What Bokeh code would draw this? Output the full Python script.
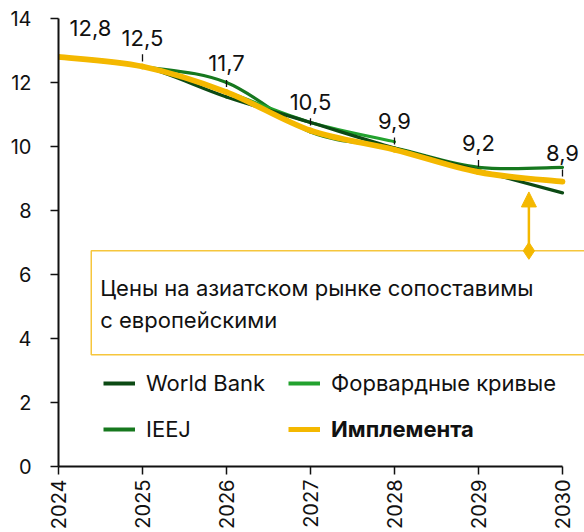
from bokeh.plotting import figure
from bokeh.models import (ColumnDataSource, LabelSet, Label, Arrow,
                          NormalHead, Legend, LegendItem, FixedTicker)
from bokeh.core.properties import value
from bokeh.embed import file_html
from bokeh.resources import INLINE

# ---------------- data ----------------
years = [2024, 2025, 2026, 2027, 2028, 2029, 2030]
year_labels = ["2024", "2025", "2026", "2027", "2028", "2029", "2030"]
implementa = [12.8, 12.5, 11.7, 10.5, 9.9, 9.2, 8.9]
world_bank = [12.8, 12.5, 11.55, 10.75, 9.95, 9.25, 8.55]
ieej = [12.8, 12.5, 12.0, 10.45, 9.95, 9.35, 9.35]
forward_years = [2024, 2025, 2026, 2027, 2028]
forward = [12.8, 12.5, 11.7, 10.75, 10.15]
y_ticks = [0, 2, 4, 6, 8, 10, 12, 14]

FONT = "Inter"
C_WB = "#0c4a14"
C_IEEJ = "#16781e"
C_FWD = "#22a22e"
C_IMP = "#f4b800"
C_BOX = "#f6c63c"
C_TXT = "#111111"


def smooth(xs, ys):
    n = len(xs)
    d = dict(x0=[], y0=[], x1=[], y1=[], cx0=[], cy0=[], cx1=[], cy1=[])
    t = 1.0 / 6.0
    for i in range(n - 1):
        a = i - 1 if i > 0 else i
        b = i + 2 if i + 2 < n else i + 1
        d["x0"].append(xs[i]); d["y0"].append(ys[i])
        d["x1"].append(xs[i + 1]); d["y1"].append(ys[i + 1])
        d["cx0"].append(xs[i] + (xs[i + 1] - xs[a]) * t)
        d["cy0"].append(ys[i] + (ys[i + 1] - ys[a]) * t)
        d["cx1"].append(xs[i + 1] - (xs[b] - xs[i]) * t)
        d["cy1"].append(ys[i + 1] - (ys[b] - ys[i]) * t)
    return ColumnDataSource(d)


p = figure(width=584, height=532, output_backend="svg", toolbar_location=None,
           x_range=(2024, 2030.262), y_range=(0, 14),
           min_border_left=58, min_border_right=0, min_border_top=18, min_border_bottom=66)
p.outline_line_color = None
p.xgrid.visible = False
p.ygrid.visible = False
p.background_fill_color = "white"
p.border_fill_color = "white"

# axes
for ax in (p.xaxis[0], p.yaxis[0]):
    ax.axis_line_color = C_TXT
    ax.axis_line_width = 2
    ax.major_tick_line_color = C_TXT
    ax.major_tick_line_width = 1.5
    ax.major_tick_in = 0
    ax.major_tick_out = 8
    ax.minor_tick_line_color = None
    ax.major_label_text_font = FONT
    ax.major_label_text_font_size = "20px"
    ax.major_label_text_color = C_TXT

p.xaxis.ticker = FixedTicker(ticks=years)
p.xaxis.major_label_overrides = {y: s for y, s in zip(years, year_labels)}
p.xaxis.major_label_orientation = 3.14159265 / 2
p.xaxis.major_label_standoff = 5
p.xaxis.bounds = (years[0], years[-1])
p.yaxis.ticker = FixedTicker(ticks=y_ticks)
p.yaxis.major_label_standoff = 19

# annotation box (clipped at the frame's right edge)
box_left = 2024.39
box_top = 6.74
box_bottom = 3.49
p.quad(left=[box_left], right=[2031.0], bottom=[box_bottom], top=[box_top],
       fill_alpha=0, line_color=C_BOX, line_width=1.5)
p.add_layout(Label(x=box_left, y=box_top, x_offset=9, y_offset=-24,
                   text="Цены на азиатском рынке сопоставимы\nс европейскими",
                   text_font=FONT, text_font_size="22px", text_color=C_TXT,
                   text_baseline="top", text_align="left", text_line_height=1.25))

# lines (smoothed)
for xs, ys, col, w in [(years, ieej, C_IEEJ, 3.2), (forward_years, forward, C_FWD, 3.2),
                       (years, world_bank, C_WB, 3.2), (years, implementa, C_IMP, 5.8)]:
    p.bezier(x0="x0", y0="y0", x1="x1", y1="y1", cx0="cx0", cy0="cy0",
             cx1="cx1", cy1="cy1", source=smooth(xs, ys), line_color=col,
             line_width=w, line_cap="round")

arrow_x = 2029.6
p.add_layout(Arrow(x_start=arrow_x, y_start=box_top, x_end=arrow_x, y_end=8.58,
                   line_color=C_IMP, line_width=2.5,
                   end=NormalHead(size=15, fill_color=C_IMP, line_color=C_IMP)))
p.scatter(x=[arrow_x], y=[box_top], marker="diamond", size=17, fill_color=C_IMP,
          line_color=C_IMP)

# data labels
lbl = [f"{v:.1f}".replace(".", ",") for v in implementa]
src_rest = ColumnDataSource(dict(x=years[1:], y=implementa[1:], t=lbl[1:],
                                 y0=[v + 0.16 for v in implementa[1:]],
                                 y1=[v + 0.38 for v in implementa[1:]]))
p.segment(x0="x", x1="x", y0="y0", y1="y1", source=src_rest, line_color=C_TXT,
          line_width=1.3)
p.add_layout(LabelSet(x="x", y="y", text="t", source=src_rest, y_offset=21,
                      text_align="center", text_baseline="bottom",
                      text_font=value(FONT), text_font_size=value("22px"),
                      text_color=C_TXT, background_fill_color="white"))
src_first = ColumnDataSource(dict(x=years[:1], y=implementa[:1], t=lbl[:1]))
p.add_layout(LabelSet(x="x", y="y", text="t", source=src_first, y_offset=21, x_offset=32,
                      text_align="center", text_baseline="bottom",
                      text_font=value(FONT), text_font_size=value("22px"),
                      text_color=C_TXT))

# legend
nan = float("nan")


def legend_for(name, col, w, loc, bold=False):
    r = p.line(x=[nan], y=[nan], line_color=col, line_width=w)
    lg = Legend(items=[LegendItem(label=name, renderers=[r])], location=loc,
                glyph_width=32, glyph_height=20, label_height=20, label_standoff=11,
                padding=0, margin=0, spacing=0, border_line_color=None,
                background_fill_alpha=0, label_text_font=FONT,
                label_text_font_size="22px", label_text_color=C_TXT,
                label_text_font_style="bold" if bold else "normal")
    p.add_layout(lg, "center")


legend_for("World Bank", C_WB, 4, (45, 70))
legend_for("Форвардные кривые", C_FWD, 4, (230, 70))
legend_for("IEEJ", C_IEEJ, 4, (45, 24))
legend_for("Имплемента", C_IMP, 5, (230, 24), bold=True)

open("out.html", "w").write(file_html(p, INLINE))
